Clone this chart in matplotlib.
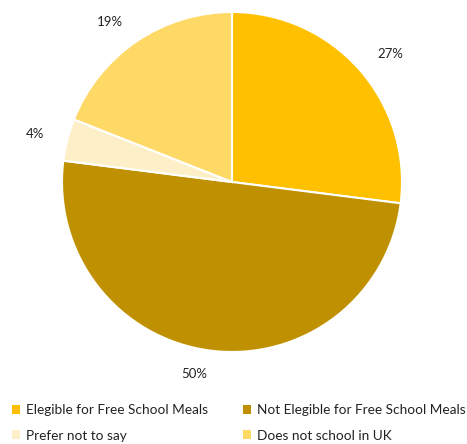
import matplotlib
matplotlib.use("Agg")
import matplotlib.pyplot as plt
from matplotlib.patches import Patch

categories = ["Elegible for Free School Meals", "Not Elegible for Free School Meals",
              "Prefer not to say", "Does not school in UK"]
values = [27, 50, 4, 19]
colors = ["#FFC000", "#BF9000", "#FDF0C9", "#FFD966"]

plt.rcParams["font.family"] = ["Lato", "DejaVu Sans"]

W, H = 467, 444
fig = plt.figure(figsize=(W / 100, H / 100), dpi=100)
cx, cy, r = 232, 182, 170
ax = fig.add_axes([(cx - r) / W, 1 - (cy + r) / H, 2 * r / W, 2 * r / H])

wedges, texts = ax.pie(
    values, colors=colors, startangle=90, counterclock=False,
    labels=[f"{v}%" for v in values], labeldistance=1.14,
    wedgeprops=dict(edgecolor="white", linewidth=1.5),
    textprops=dict(fontsize=9.5, color="#222222"),
)
ax.set_xlim(-1, 1)
ax.set_ylim(-1, 1)
ax.set_aspect("equal")
ax.axis("off")

# legend filled row by row: column-major order for ncol=2
order = [0, 2, 1, 3]
handles = [Patch(facecolor=colors[i], edgecolor="none") for i in order]
labels = [categories[i] for i in order]
fig.legend(
    handles, labels, ncol=2, loc="upper left",
    bbox_to_anchor=(12 / W, 1 - 404 / H), frameon=False,
    borderpad=0, borderaxespad=0,
    fontsize=9.8, handlelength=0.6, handleheight=0.6, handletextpad=0.4,
    columnspacing=2.6, labelspacing=1.0, labelcolor="#222222",
)

fig.savefig("out.png", dpi=100)
